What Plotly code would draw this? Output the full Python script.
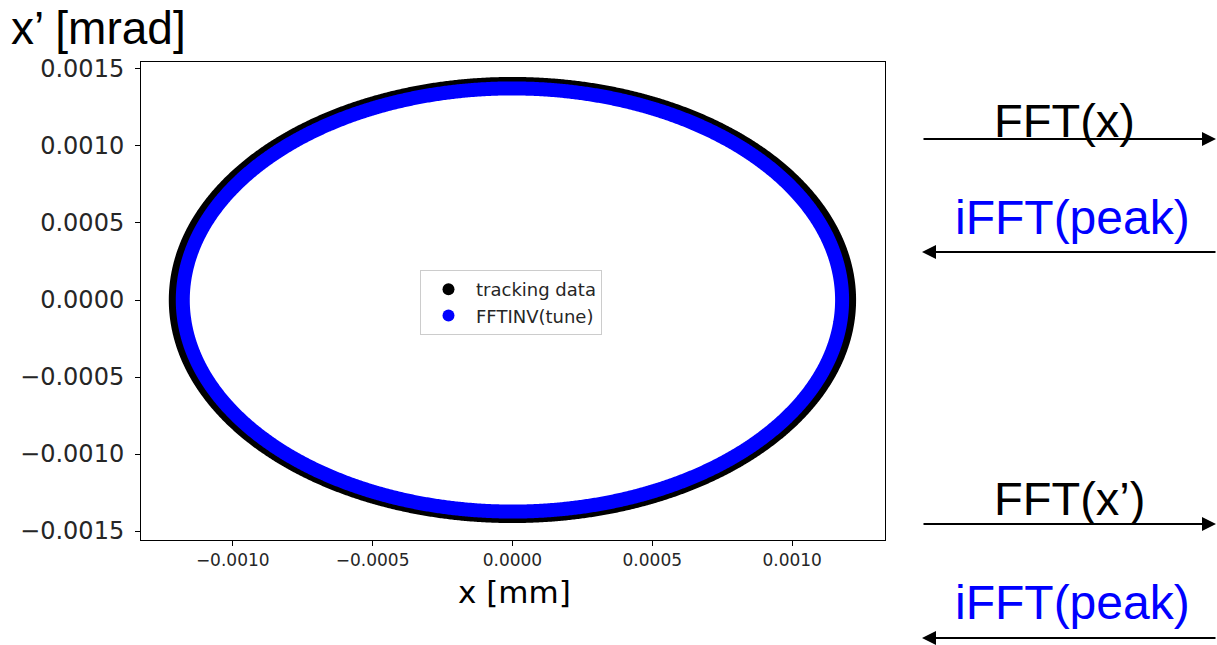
import numpy as np
import plotly.graph_objects as go

# ---- data ----
series_names = ["tracking data", "FFTINV(tune)"]
series_colors = ["black", "blue"]
x_amplitude = [0.0012036, 0.0011786]      # semi-axis in x [mm]
xp_amplitude = [0.0014026, 0.0013734]     # semi-axis in x' [mrad]
x_tickvals = [-0.0010, -0.0005, 0.0, 0.0005, 0.0010]
x_ticktext = ["\u22120.0010", "\u22120.0005", "0.0000", "0.0005", "0.0010"]
y_tickvals = [0.0015, 0.0010, 0.0005, 0.0, -0.0005, -0.0010, -0.0015]
y_ticktext = ["0.0015", "0.0010", "0.0005", "0.0000", "\u22120.0005", "\u22120.0010", "\u22120.0015"]
x_range = [-0.001328, 0.001332]
y_range = [-0.001558, 0.001545]

W, H = 1217, 645
L, R, T, B = 141, 332, 62, 105

# phase samples around one closed turn (slight overlap to close the ring)
phase = np.linspace(0, 2 * np.pi + 0.08, 1500)

fig = go.Figure()
for name, col, a, b in zip(series_names, series_colors, x_amplitude, xp_amplitude):
    fig.add_trace(go.Scatter(
        x=a * np.cos(phase), y=b * np.sin(phase), mode="lines",
        line=dict(color=col, width=14, simplify=False), showlegend=False, hoverinfo="skip"))
for name, col in zip(series_names, series_colors):
    fig.add_trace(go.Scatter(
        x=[None], y=[None], mode="markers", name=name,
        marker=dict(color=col, size=12)))

axis_common = dict(showgrid=False, zeroline=False, showline=True, linecolor="black",
                   linewidth=1, mirror=True, ticks="outside", ticklen=5,
                   tickcolor="black", tickmode="array")
fig.update_xaxes(range=x_range, tickvals=x_tickvals, ticktext=x_ticktext,
                 tickfont=dict(family="DejaVu Sans", size=17, color="#262626"),
                 **axis_common)
fig.update_yaxes(range=y_range, tickvals=y_tickvals, ticktext=y_ticktext,
                 tickfont=dict(family="DejaVu Sans", size=24, color="#262626"),
                 ticklabelstandoff=6, **axis_common)

pw, ph = W - L - R, H - T - B
def px(xp):
    return (xp - L) / pw
def py(yp):
    return (H - B - yp) / ph

ann = []
# axis labels
ann.append(dict(text="x [mm]", x=px(514), y=py(592), xref="paper", yref="paper",
                showarrow=False, font=dict(family="DejaVu Sans", size=31, color="black"),
                xanchor="center", yanchor="middle"))
ann.append(dict(text="x\u2019 [mrad]", x=px(9), y=py(28), xref="paper", yref="paper",
                showarrow=False, font=dict(family="Liberation Sans", size=46, color="black"),
                xanchor="left", yanchor="middle"))
# right-side labels
labels = [("FFT(x)", "black", 1064, 120, 47), ("iFFT(peak)", "blue", 1072, 217, 48),
          ("FFT(x\u2019)", "black", 1069, 498, 47), ("iFFT(peak)", "blue", 1072, 602, 48)]
for t, c, cx, cy, fs in labels:
    ann.append(dict(text=t, x=px(cx), y=py(cy), xref="paper", yref="paper",
                    showarrow=False, font=dict(family="Liberation Sans", size=fs, color=c),
                    xanchor="center", yanchor="middle"))
# arrows
arrows = [(1216, 139, 922, 139), (922, 252, 1217, 252),
          (1216, 524, 922, 524), (922, 638, 1217, 638)]
for hx, hy, tx, ty in arrows:
    ann.append(dict(text="", x=px(hx), y=py(hy), xref="paper", yref="paper",
                    showarrow=True, arrowhead=2, arrowsize=1.4, arrowwidth=2,
                    arrowcolor="black", ax=tx - hx, ay=ty - hy, axref="pixel", ayref="pixel"))

fig.update_layout(
    width=W, height=H, margin=dict(l=L, r=R, t=T, b=B, autoexpand=False),
    paper_bgcolor="white", plot_bgcolor="white",
    annotations=ann,
    legend=dict(x=px(420), y=py(270), xanchor="left", yanchor="top",
                bordercolor="#cccccc", borderwidth=1, bgcolor="white",
                font=dict(family="DejaVu Sans", size=18, color="#262626"),
                itemsizing="constant", itemwidth=45, tracegroupgap=0),
)

fig.write_html("out.html")
